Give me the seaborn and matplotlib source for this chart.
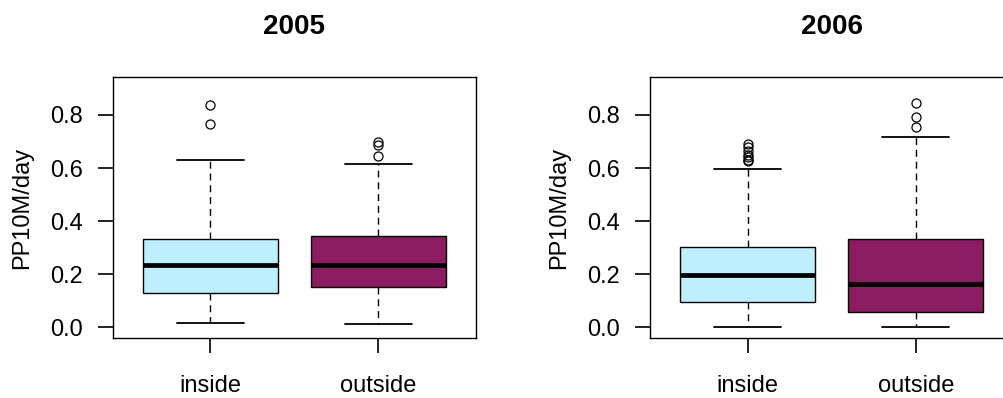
import numpy as np
import pandas as pd
import seaborn as sns
import matplotlib
matplotlib.use('Agg')
import matplotlib.pyplot as plt

# PP10M/day samples per location, chosen to reproduce the box stats
# (lower whisker, Q1, median, Q3, upper whisker, then the outliers)
years     = ['2005', '2006']
locations = ['inside', 'outside']
colors    = ['#BFEFFF', '#8B1C62']

inside_2005  = [0.018, 0.07, 0.11, 0.128, 0.17, 0.21, 0.234, 0.27, 0.30, 0.331,
                0.630, 0.766, 0.837]
outside_2005 = [0.012, 0.05, 0.09, 0.13, 0.151, 0.17, 0.19, 0.21, 0.234, 0.26, 0.29, 0.32, 0.345,
                0.616, 0.644, 0.687, 0.699]
inside_2006  = [0.0, 0.01, 0.02, 0.035, 0.05, 0.06, 0.075, 0.085, 0.094,
                0.11, 0.12, 0.135, 0.15, 0.16, 0.175, 0.185, 0.198,
                0.21, 0.225, 0.24, 0.25, 0.265, 0.28, 0.29, 0.302,
                0.596, 0.625, 0.632, 0.640, 0.650, 0.665, 0.680, 0.692]
outside_2006 = [0.0, 0.01, 0.03, 0.045, 0.059, 0.09, 0.12, 0.145, 0.164, 0.20, 0.25, 0.29, 0.331,
                0.718, 0.756, 0.792, 0.844]

samples = {'2005': (inside_2005, outside_2005),
           '2006': (inside_2006, outside_2006)}

y_ticks = [0.0, 0.2, 0.4, 0.6, 0.8]


def make_frame(inside, outside):
    return pd.DataFrame({'location': ['inside'] * len(inside) + ['outside'] * len(outside),
                         'pp10m': inside + outside})


sns.set_theme(style='ticks', rc={'text.color': 'black', 'axes.labelcolor': 'black',
                                 'xtick.color': 'black', 'ytick.color': 'black',
                                 'axes.edgecolor': 'black', 'axes.linewidth': 1.0,
                                 'xtick.major.size': 10.5, 'ytick.major.size': 10.5,
                                 'xtick.major.width': 1.2, 'ytick.major.width': 1.2,
                                 'xtick.major.pad': 16, 'ytick.major.pad': 11,
                                 'xtick.labelsize': 17, 'ytick.labelsize': 17})
plt.rcParams['font.family'] = ['Liberation Sans', 'DejaVu Sans']

fig = plt.figure(figsize=(10.04, 3.98), dpi=100)
positions = [[0.1122, 0.1515, 0.3619, 0.6543],
             [0.6474, 0.1515, 0.3619, 0.6543]]

for year, pos in zip(years, positions):
    ax = fig.add_axes(pos)
    df = make_frame(*samples[year])
    sns.boxplot(data=df, x='location', y='pp10m', hue='location', order=locations,
                hue_order=locations, palette=colors, saturation=1, legend=False,
                width=0.8, whis=1.5, linecolor='black', linewidth=1.0, ax=ax,
                medianprops=dict(color='black', linewidth=3.4),
                whiskerprops=dict(color='black', linewidth=1.0, linestyle=(0, (5, 3.5))),
                capprops=dict(color='black', linewidth=1.3),
                flierprops=dict(marker='o', markerfacecolor='none', markeredgecolor='black',
                                markersize=6.5, markeredgewidth=0.9))
    ax.set_xlim(-0.58, 1.58)
    ax.set_ylim(-0.039, 0.9416)
    ax.set_yticks(y_ticks)
    ax.set_yticklabels(['{:.1f}'.format(t) for t in y_ticks])
    ax.set_xlabel('')
    ax.set_ylabel('PP10M/day', fontsize=17, labelpad=12)
    ax.set_title(year, fontsize=20, fontweight='bold', pad=31)
    ax.tick_params(axis='both', which='major', direction='out', left=True, bottom=True,
                   length=10.5, width=1.2, color='black')
    for sp in ax.spines.values():
        sp.set_visible(True)

plt.savefig('out.png', dpi=100)
